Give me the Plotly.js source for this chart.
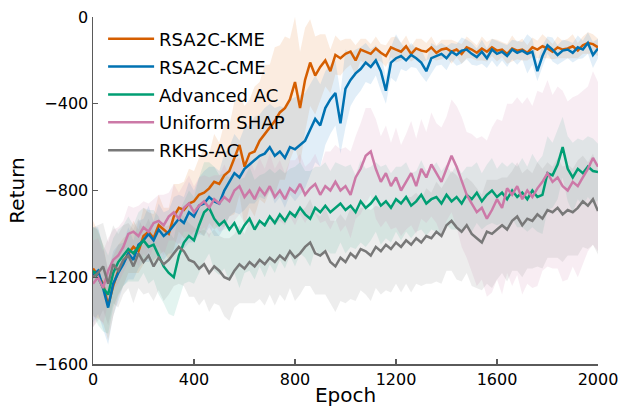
<!DOCTYPE html>
<html>
<head>
<meta charset="utf-8">
<script src="https://cdn.plot.ly/plotly-3.0.1.min.js"></script>
<style>
  html, body { margin: 0; padding: 0; background: #fff; }
  #chart { width: 620px; height: 407px; }
</style>
</head>
<body>
<div id="chart"></div>
<script>
// Training curves: mean return per epoch (every 20 epochs) with a ±spread band.
const EPOCH_STEP = 20;

const seriesNames = ["RSA2C-KME", "RSA2C-CME", "Advanced AC", "Uniform SHAP", "RKHS-AC"];

const kmeMean = [
  -1160,-1190,-1230,-1330,-1240,-1170,-1130,-1090,-1060,-1080,-1010,-990,-1020,-960,-980,-1000,
  -920,-880,-890,-860,-850,-820,-810,-790,-760,-770,-730,-710,-650,-590,-690,-630,-620,-570,-540,
  -510,-480,-440,-420,-380,-300,-420,-290,-210,-270,-230,-200,-250,-175,-190,-170,-160,-200,-150,
  -160,-170,-145,-165,-180,-140,-150,-160,-135,-170,-145,-155,-160,-140,-165,-150,-145,-160,-150,
  -170,-140,-150,-165,-145,-160,-140,-155,-150,-170,-145,-155,-150,-165,-140,-150,-135,-145,-160,
  -140,-150,-145,-135,-155,-130,-120,-125,-140
];
const cmeMean = [
  -1190,-1170,-1250,-1340,-1230,-1180,-1140,-1090,-1120,-1050,-1030,-1000,-1030,-980,-1010,-990,
  -960,-930,-950,-900,-920,-870,-860,-830,-850,-860,-800,-760,-720,-740,-700,-680,-660,-640,-630,
  -600,-640,-620,-650,-600,-610,-590,-570,-520,-470,-500,-420,-380,-350,-490,-330,-290,-260,-240,
  -210,-230,-200,-250,-340,-210,-190,-180,-200,-175,-190,-210,-250,-190,-180,-170,-190,-160,-175,
  -155,-150,-170,-185,-160,-190,-150,-170,-160,-180,-150,-165,-155,-170,-160,-250,-180,-130,-150,
  -175,-155,-150,-165,-140,-150,-120,-175,-145
];
const advMean = [
  -1170,-1200,-1250,-1280,-1180,-1130,-1100,-1070,-1090,-1060,-1030,-1060,-1050,-1100,-1150,-1180,
  -1200,-1100,-1040,-1010,-1030,-960,-900,-880,-930,-960,-940,-980,-950,-1000,-960,-930,-980,-940,
  -960,-920,-950,-910,-940,-900,-920,-880,-910,-930,-880,-900,-870,-900,-880,-860,-890,-870,-900,
  -850,-880,-860,-830,-870,-850,-880,-840,-860,-830,-870,-850,-820,-860,-840,-830,-860,-820,-850,
  -830,-860,-820,-840,-810,-850,-820,-800,-830,-810,-840,-800,-830,-810,-840,-800,-830,-820,-720,
  -730,-680,-600,-700,-740,-700,-720,-690,-710,-715
];
const shapMean = [
  -1230,-1200,-1250,-1170,-1120,-1100,-1060,-1000,-990,-1010,-970,-990,-950,-940,-960,-920,-900,
  -930,-880,-860,-900,-870,-850,-880,-840,-860,-830,-850,-800,-780,-830,-800,-840,-790,-820,-780,
  -830,-800,-840,-790,-810,-770,-820,-790,-770,-820,-780,-800,-760,-800,-780,-820,-740,-700,-640,
  -620,-700,-760,-720,-780,-740,-800,-760,-720,-780,-700,-740,-680,-720,-760,-700,-640,-690,-760,
  -820,-860,-900,-880,-930,-890,-840,-880,-790,-820,-780,-840,-800,-830,-790,-760,-720,-760,-740,
  -780,-800,-760,-780,-740,-700,-650,-690
];
const rkhsMean = [
  -1200,-1180,-1150,-1230,-1140,-1170,-1120,-1100,-1150,-1090,-1130,-1100,-1150,-1110,-1140,-1120,
  -1090,-1060,-1080,-1120,-1130,-1160,-1140,-1180,-1150,-1170,-1200,-1210,-1170,-1140,-1160,-1130,
  -1150,-1120,-1140,-1110,-1130,-1100,-1120,-1080,-1110,-1090,-1060,-1040,-1090,-1100,-1080,-1130,
  -1150,-1110,-1130,-1090,-1110,-1070,-1080,-1100,-1060,-1080,-1050,-1070,-1040,-1060,-1030,-1050,
  -1020,-1040,-1010,-1020,-990,-1010,-960,-940,-970,-990,-960,-1000,-1020,-1040,-990,-1000,-980,
  -960,-980,-940,-920,-960,-930,-940,-910,-930,-890,-900,-880,-910,-890,-900,-880,-850,-870,-840,-895
];

const kmeSpread = [
  220,200,180,160,140,120,
  110,90,120,100,130,90,110,140,100,120,150,110,130,160,140,
  170,200,160,220,190,240,210,260,230,280,250,300,270,320,290,340,310,330,280,300,260,240,200,180,150,
  120,100,90,80,70,60,70,50,60,45,55,40,50,45,60,40,50,35,45,55,40,50,35,45,40,55,35,45,50,40,35,55,
  45,40,50,35,45,60,40,50,35,45,40,55,45,35,50,40,45,55,35,40,50,45,40
];
const cmeSpread = [
  220,200,190,170,150,130,
  100,120,90,110,100,130,90,120,110,100,130,110,120,140,120,
  130,150,140,160,150,170,160,180,170,190,180,200,190,210,200,220,210,230,220,240,230,220,210,200,190,
  170,160,150,140,180,120,110,100,90,80,70,90,60,70,110,60,50,55,45,60,50,70,45,50,55,40,50,60,45,50,
  40,55,45,50,60,40,50,45,55,40,90,60,45,50,40,55,45,50,40,45,55,40,50,60,45
];
const advSpread = [
  200,220,200,180,160,150,
  140,150,130,160,150,170,160,180,170,190,180,200,190,210,200,
  220,230,210,240,230,220,240,230,250,220,240,230,210,240,220,230,210,220,200,230,210,200,220,190,210,
  200,190,210,180,200,190,170,190,180,170,160,180,170,160,150,170,160,150,140,160,150,140,160,150,140,
  130,150,140,130,150,140,130,140,150,130,140,150,130,140,160,150,170,160,180,170,150,160,140,150,160,
  140,150,140,150,130
];
const shapSpread = [
  200,180,170,150,140,130,
  120,130,110,140,120,130,110,120,140,110,130,120,110,130,120,
  130,120,140,110,130,150,120,140,130,120,150,130,140,120,150,130,140,120,130,150,140,130,120,140,130,
  160,180,170,190,180,
  200,190,210,220,200,230,210,220,200,230,210,220,240,220,230,210,240,230,250,240,
  260,280,300,290,320,340,330,360,380,370,
  400,390,420,410,440,430,420,450,410,430,400,420,440,410,390,420,400,380,400,390
];
const rkhsSpread = [
  230,220,200,190,180,170,
  160,150,170,160,150,170,160,150,170,160,150,170,160,170,160,
  170,160,180,170,160,180,190,170,180,160,190,170,180,190,170,200,180,190,170,200,190,180,200,190,180,
  200,190,210,200,190,210,200,190,200,210,190,200,210,200,190,210,200,220,210,200,220,210,230,220,210,
  230,240,230,220,240,230,220,240,250,230,220,240,230,250,240,230,220,240,230,220,210,230,220,210,200,
  220,210,200,210,200
];

const lineColors = ["#d55e00", "#0072b2", "#009e73", "#cc79a7", "#787878"];
const bandColors = [
  "rgba(230,140,70,0.17)",
  "rgba(70,150,210,0.16)",
  "rgba(60,180,150,0.14)",
  "rgba(215,150,185,0.17)",
  "rgba(150,150,150,0.17)"
];

const means = [kmeMean, cmeMean, advMean, shapMean, rkhsMean];
const spreads = [kmeSpread, cmeSpread, advSpread, shapSpread, rkhsSpread];
const epochs = kmeMean.map((_, i) => i * EPOCH_STEP);

const bandTraces = [];
const lineTraces = [];
means.forEach((m, k) => {
  const s = spreads[k];
  bandTraces.push({
    x: epochs, y: m.map((v, i) => v + s[i]),
    mode: "lines", line: { width: 0, color: bandColors[k] },
    hoverinfo: "skip", showlegend: false
  });
  bandTraces.push({
    x: epochs, y: m.map((v, i) => v - s[i]),
    mode: "lines", line: { width: 0, color: bandColors[k] },
    fill: "tonexty", fillcolor: bandColors[k],
    hoverinfo: "skip", showlegend: false
  });
  lineTraces.push({
    x: epochs, y: m, name: seriesNames[k], legendgroup: "g" + k,
    mode: "lines", line: { color: lineColors[k], width: 2.5 }
  });
});

const yTickVals = [-1600, -1200, -800, -400, 0];
const yTickText = ["\u22121600", "\u22121200", "\u2212800", "\u2212400", "0"];
const xTickVals = [0, 400, 800, 1200, 1600, 2000];

const axisColor = "#5a5a5a";
const layout = {
  width: 620, height: 407,
  margin: { l: 93, r: 22, t: 17, b: 43, pad: 0 },
  paper_bgcolor: "#fff", plot_bgcolor: "#fff",
  font: { family: "DejaVu Sans", size: 16, color: "#000" },
  showlegend: true,
  legend: {
    x: 0.02, y: 0.99, xanchor: "left", yanchor: "top", traceorder: "grouped",
    bgcolor: "rgba(0,0,0,0)", font: { size: 18, color: "#000" },
    tracegroupgap: 1.5, itemwidth: 46
  },
  xaxis: {
    range: [0, 2000], tickvals: xTickVals, ticks: "inside", ticklen: 5,
    tickcolor: axisColor, tickwidth: 1.2, showline: true, linecolor: axisColor, linewidth: 1.5,
    showgrid: false, zeroline: false, tickfont: { size: 16 },
    title: { text: "Epoch", font: { size: 20 }, standoff: 1 }
  },
  yaxis: {
    range: [-1600, 0], tickvals: yTickVals, ticktext: yTickText, ticks: "inside", ticklen: 5,
    tickcolor: axisColor, tickwidth: 1.2, showline: true, linecolor: axisColor, linewidth: 1.5,
    showgrid: false, zeroline: false, tickfont: { size: 16 },
    title: { text: "Return", font: { size: 20 }, standoff: 4 }
  }
};

Plotly.newPlot("chart", bandTraces.concat(lineTraces), layout, { staticPlot: true, displayModeBar: false });
</script>
</body>
</html>
